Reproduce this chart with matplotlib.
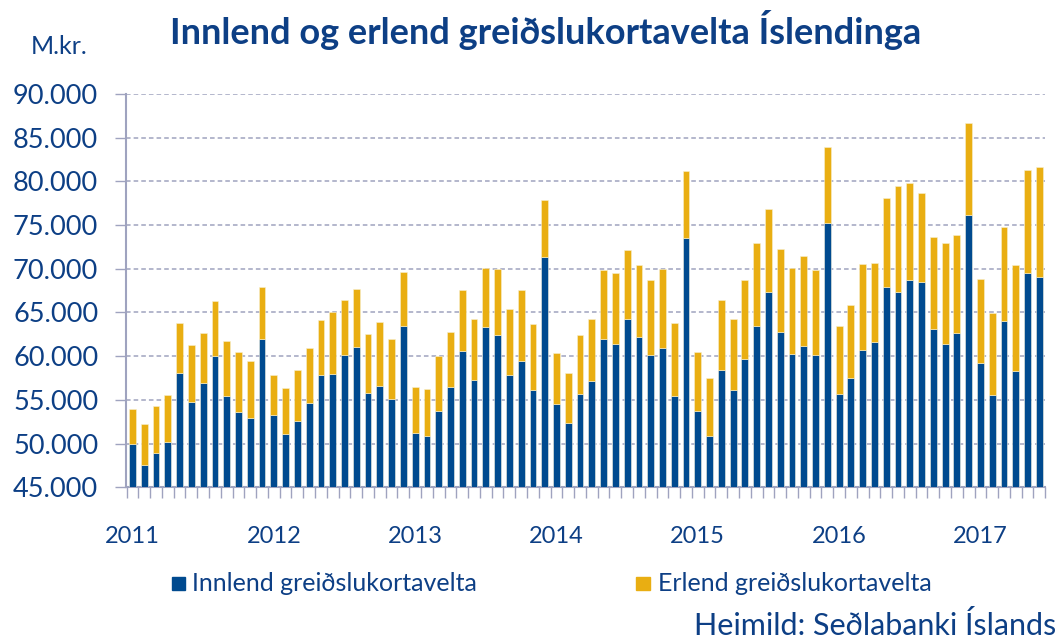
import numpy as np
import matplotlib.pyplot as plt
from matplotlib.patches import Rectangle

plt.rcParams['font.family'] = ['Lato', 'DejaVu Sans']

years = ["2011", "2012", "2013", "2014", "2015", "2016", "2017"]

# monthly values, Jan 2011 - Jun 2017 (m.kr.)
innlend = [
    50000, 47550, 48900, 50200, 58100, 54750, 56950, 60050, 55500, 53650, 52900, 62000,
    53250, 51050, 52600, 54700, 57800, 57950, 60150, 61000, 55750, 56600, 55050, 63400,
    51200, 50900, 53750, 56500, 60650, 57300, 63300, 62400, 57800, 59450, 56100, 71400,
    54550, 52350, 55700, 57150, 61950, 61350, 64250, 62150, 60150, 60950, 55450, 73500,
    53700, 50900, 58450, 56100, 59650, 63400, 67350, 62750, 60200, 61150, 60150, 75200,
    55700, 57450, 60750, 61650, 67950, 67350, 68700, 68500, 63150, 61400, 62650, 76200,
    59200, 55550, 64000, 58350, 69550, 69050,
]
heild = [
    53950, 52250, 54300, 55600, 63750, 61250, 62700, 66350, 61700, 60450, 59400, 67900,
    57900, 56350, 58450, 60950, 64150, 65000, 66400, 67700, 62500, 63900, 61950, 69650,
    56500, 56200, 60000, 62750, 67550, 64200, 70050, 70000, 65350, 67550, 63700, 77850,
    60400, 58100, 62450, 64250, 69900, 69500, 72150, 70450, 68700, 70000, 63850, 81200,
    60450, 57550, 66450, 64250, 68700, 72900, 76850, 72250, 70050, 71450, 69850, 83950,
    63500, 65850, 70550, 70650, 78150, 79500, 79800, 78650, 73650, 72900, 73850, 86700,
    68850, 64950, 74750, 70450, 81350, 81600,
]
erlend = [h - i for h, i in zip(heild, innlend)]

BLUE = "#004a8f"
ORANGE = "#e9ae12"
TXT = "#0d3f85"
GRID = "#9fa3bf"

fig = plt.figure(figsize=(10.59, 6.41), dpi=100)
ax = fig.add_axes([0.119, 0.2398, 0.868, 0.6136])

x = np.arange(len(innlend))
ax.bar(x, innlend, width=0.58, color=BLUE, edgecolor="#f3f1e0", linewidth=0.4, zorder=3)
ax.bar(x, erlend, width=0.58, bottom=innlend, color=ORANGE, edgecolor="#f7f0d0",
       linewidth=0.4, zorder=3)

ax.set_ylim(45000, 90000)
ax.set_xlim(-0.55, len(innlend) - 0.5)
yt = np.arange(45000, 90001, 5000)
ax.set_yticks(yt)
ax.set_yticklabels([f"{v:,}".replace(",", ".") for v in yt], fontsize=19.5, color=TXT)
ax.yaxis.grid(True, linestyle=(0, (3, 2)), color=GRID, linewidth=1.1, zorder=0)

ax.set_xticks(np.arange(0, len(innlend), 12))
ax.set_xticklabels(years, fontsize=17, color=TXT)
ax.set_xticks(np.arange(-0.5, len(innlend), 1), minor=True)
ax.tick_params(axis="x", which="major", length=0, pad=28)
ax.tick_params(axis="x", which="minor", length=8, color=GRID, width=1)
ax.tick_params(axis="y", length=8, color=GRID, width=1, pad=12)

for s in ["top", "right"]:
    ax.spines[s].set_visible(False)
ax.spines["left"].set_color(GRID)
ax.spines["left"].set_linewidth(1.5)
ax.spines["bottom"].set_color(GRID)
ax.spines["bottom"].set_linewidth(1.5)

fig.text(0.515, 0.953, "Innlend og erlend greiðslukortavelta Íslendinga", ha="center",
         va="center", fontsize=26, fontweight="bold", color=TXT)
fig.text(0.056, 0.928, "M.kr.", ha="center", va="center", fontsize=18, color=TXT)

# legend
fig.patches.append(Rectangle((0.162, 0.079), 0.013, 0.021, transform=fig.transFigure,
                             color=BLUE))
fig.text(0.181, 0.089, "Innlend greiðslukortavelta", ha="left", va="center",
         fontsize=18, color=TXT)
fig.patches.append(Rectangle((0.601, 0.079), 0.013, 0.021, transform=fig.transFigure,
                             color=ORANGE))
fig.text(0.621, 0.089, "Erlend greiðslukortavelta", ha="left", va="center",
         fontsize=18, color=TXT)
fig.text(0.997, 0.024, "Heimild: Seðlabanki Íslands", ha="right", va="center",
         fontsize=22, color=TXT)

fig.savefig("out.png", dpi=100)
